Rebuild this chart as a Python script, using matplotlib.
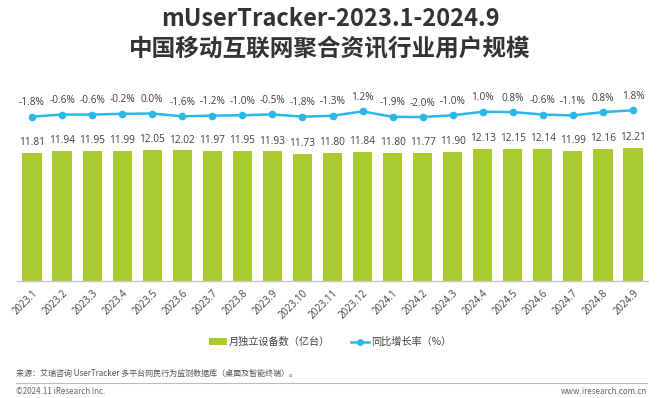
import matplotlib
matplotlib.use("Agg")
import matplotlib.pyplot as plt
from matplotlib.lines import Line2D
from matplotlib.patches import Patch

plt.rcParams['font.family'] = ['Noto Sans CJK SC', 'DejaVu Sans']
num_font = ['Open Sans', 'DejaVu Sans']

months = ["2023.1", "2023.2", "2023.3", "2023.4", "2023.5", "2023.6", "2023.7",
          "2023.8", "2023.9", "2023.10", "2023.11", "2023.12", "2024.1", "2024.2",
          "2024.3", "2024.4", "2024.5", "2024.6", "2024.7", "2024.8", "2024.9"]
devices = [11.81, 11.94, 11.95, 11.99, 12.05, 12.02, 11.97, 11.95, 11.93, 11.73,
           11.80, 11.84, 11.80, 11.77, 11.90, 12.13, 12.15, 12.14, 11.99, 12.16, 12.21]
growth = [-1.8, -0.6, -0.6, -0.2, 0.0, -1.6, -1.2, -1.0, -0.5, -1.8,
          -1.3, 1.2, -1.9, -2.0, -1.0, 1.0, 0.8, -0.6, -1.1, 0.8, 1.8]

bar_color = '#a9cb30'
line_color = '#2bb7e8'
text_color = '#404040'

W, H = 660, 398
fig = plt.figure(figsize=(W / 100, H / 100), dpi=100)

left, right = 17 / W, 648 / W
bottom, top = 1 - 281 / H, 1 - 80 / H
ax = fig.add_axes([left, bottom, right - left, top - bottom])
x = list(range(len(months)))
ax.bar(x, devices, width=0.64, color=bar_color, zorder=2)
ax.set_xlim(-0.5, len(months) - 0.5)
ax.set_ylim(0, 18.5)
for xi, v in zip(x, devices):
    ax.annotate(f"{v:.2f}", (xi, v), xytext=(0, 3.5), textcoords='offset points',
                ha='center', va='bottom', fontsize=7.3, color=text_color,
                family=num_font)

for s in ['top', 'right', 'left']:
    ax.spines[s].set_visible(False)
ax.spines['bottom'].set_color('#c8c8c8')
ax.spines['bottom'].set_linewidth(1.0)
ax.set_yticks([])
ax.set_xticks(x)
ax.set_xticklabels(months, rotation=45, ha='right', rotation_mode='anchor',
                   fontsize=7, color=text_color, family=num_font)
ax.tick_params(axis='x', length=0, pad=5)

ax2 = ax.twinx()
ax2.set_ylim(-95, 19)
ax2.plot(x, growth, color=line_color, lw=1.8, marker='o', ms=4.5, zorder=3)
for xi, g in zip(x, growth):
    ax2.annotate(f"{g:.1f}%", (xi, g), xytext=(0, 10), textcoords='offset points',
                 ha='center', va='center', fontsize=7.3, color=text_color,
                 family=num_font)
ax2.axis('off')

fig.text(0.5, 1 - 19 / H, "mUserTracker-2023.1-2024.9", ha='center', va='center',
         fontsize=17, fontweight='bold', color='#333333')
fig.text(0.5, 1 - 49 / H, "中国移动互联网聚合资讯行业用户规模", ha='center', va='center',
         fontsize=17, fontweight='bold', color='#333333')

handles = [Patch(facecolor=bar_color, edgecolor='none'),
           Line2D([0], [0], color=line_color, lw=1.8, marker='o', ms=4)]
labels = ["月独立设备数（亿台）", "同比增长率（%）"]
fig.legend(handles, labels, loc='center', bbox_to_anchor=(330 / W, 1 - 342 / H),
           ncol=2, frameon=False, fontsize=7.3, handlelength=1.8, handleheight=0.6,
           columnspacing=2.0, handletextpad=0.2, labelcolor=text_color)

fig.text(16 / W, 1 - 373 / H,
         "来源：艾瑞咨询 UserTracker 多平台网民行为监测数据库（桌面及智能终端）。",
         ha='left', va='center', fontsize=5.8, color='#555555')
fig.add_artist(Line2D([16 / W, 647 / W], [1 - 383 / H, 1 - 383 / H],
                      color='#bbbbbb', lw=0.8))
fig.text(16 / W, 1 - 391 / H, "©2024.11 iResearch Inc.", ha='left', va='center',
         fontsize=5.8, color='#666666')
fig.text(647 / W, 1 - 391 / H, "www.iresearch.com.cn", ha='right', va='center',
         fontsize=5.8, color='#666666')

fig.savefig('out.png', dpi=100)
